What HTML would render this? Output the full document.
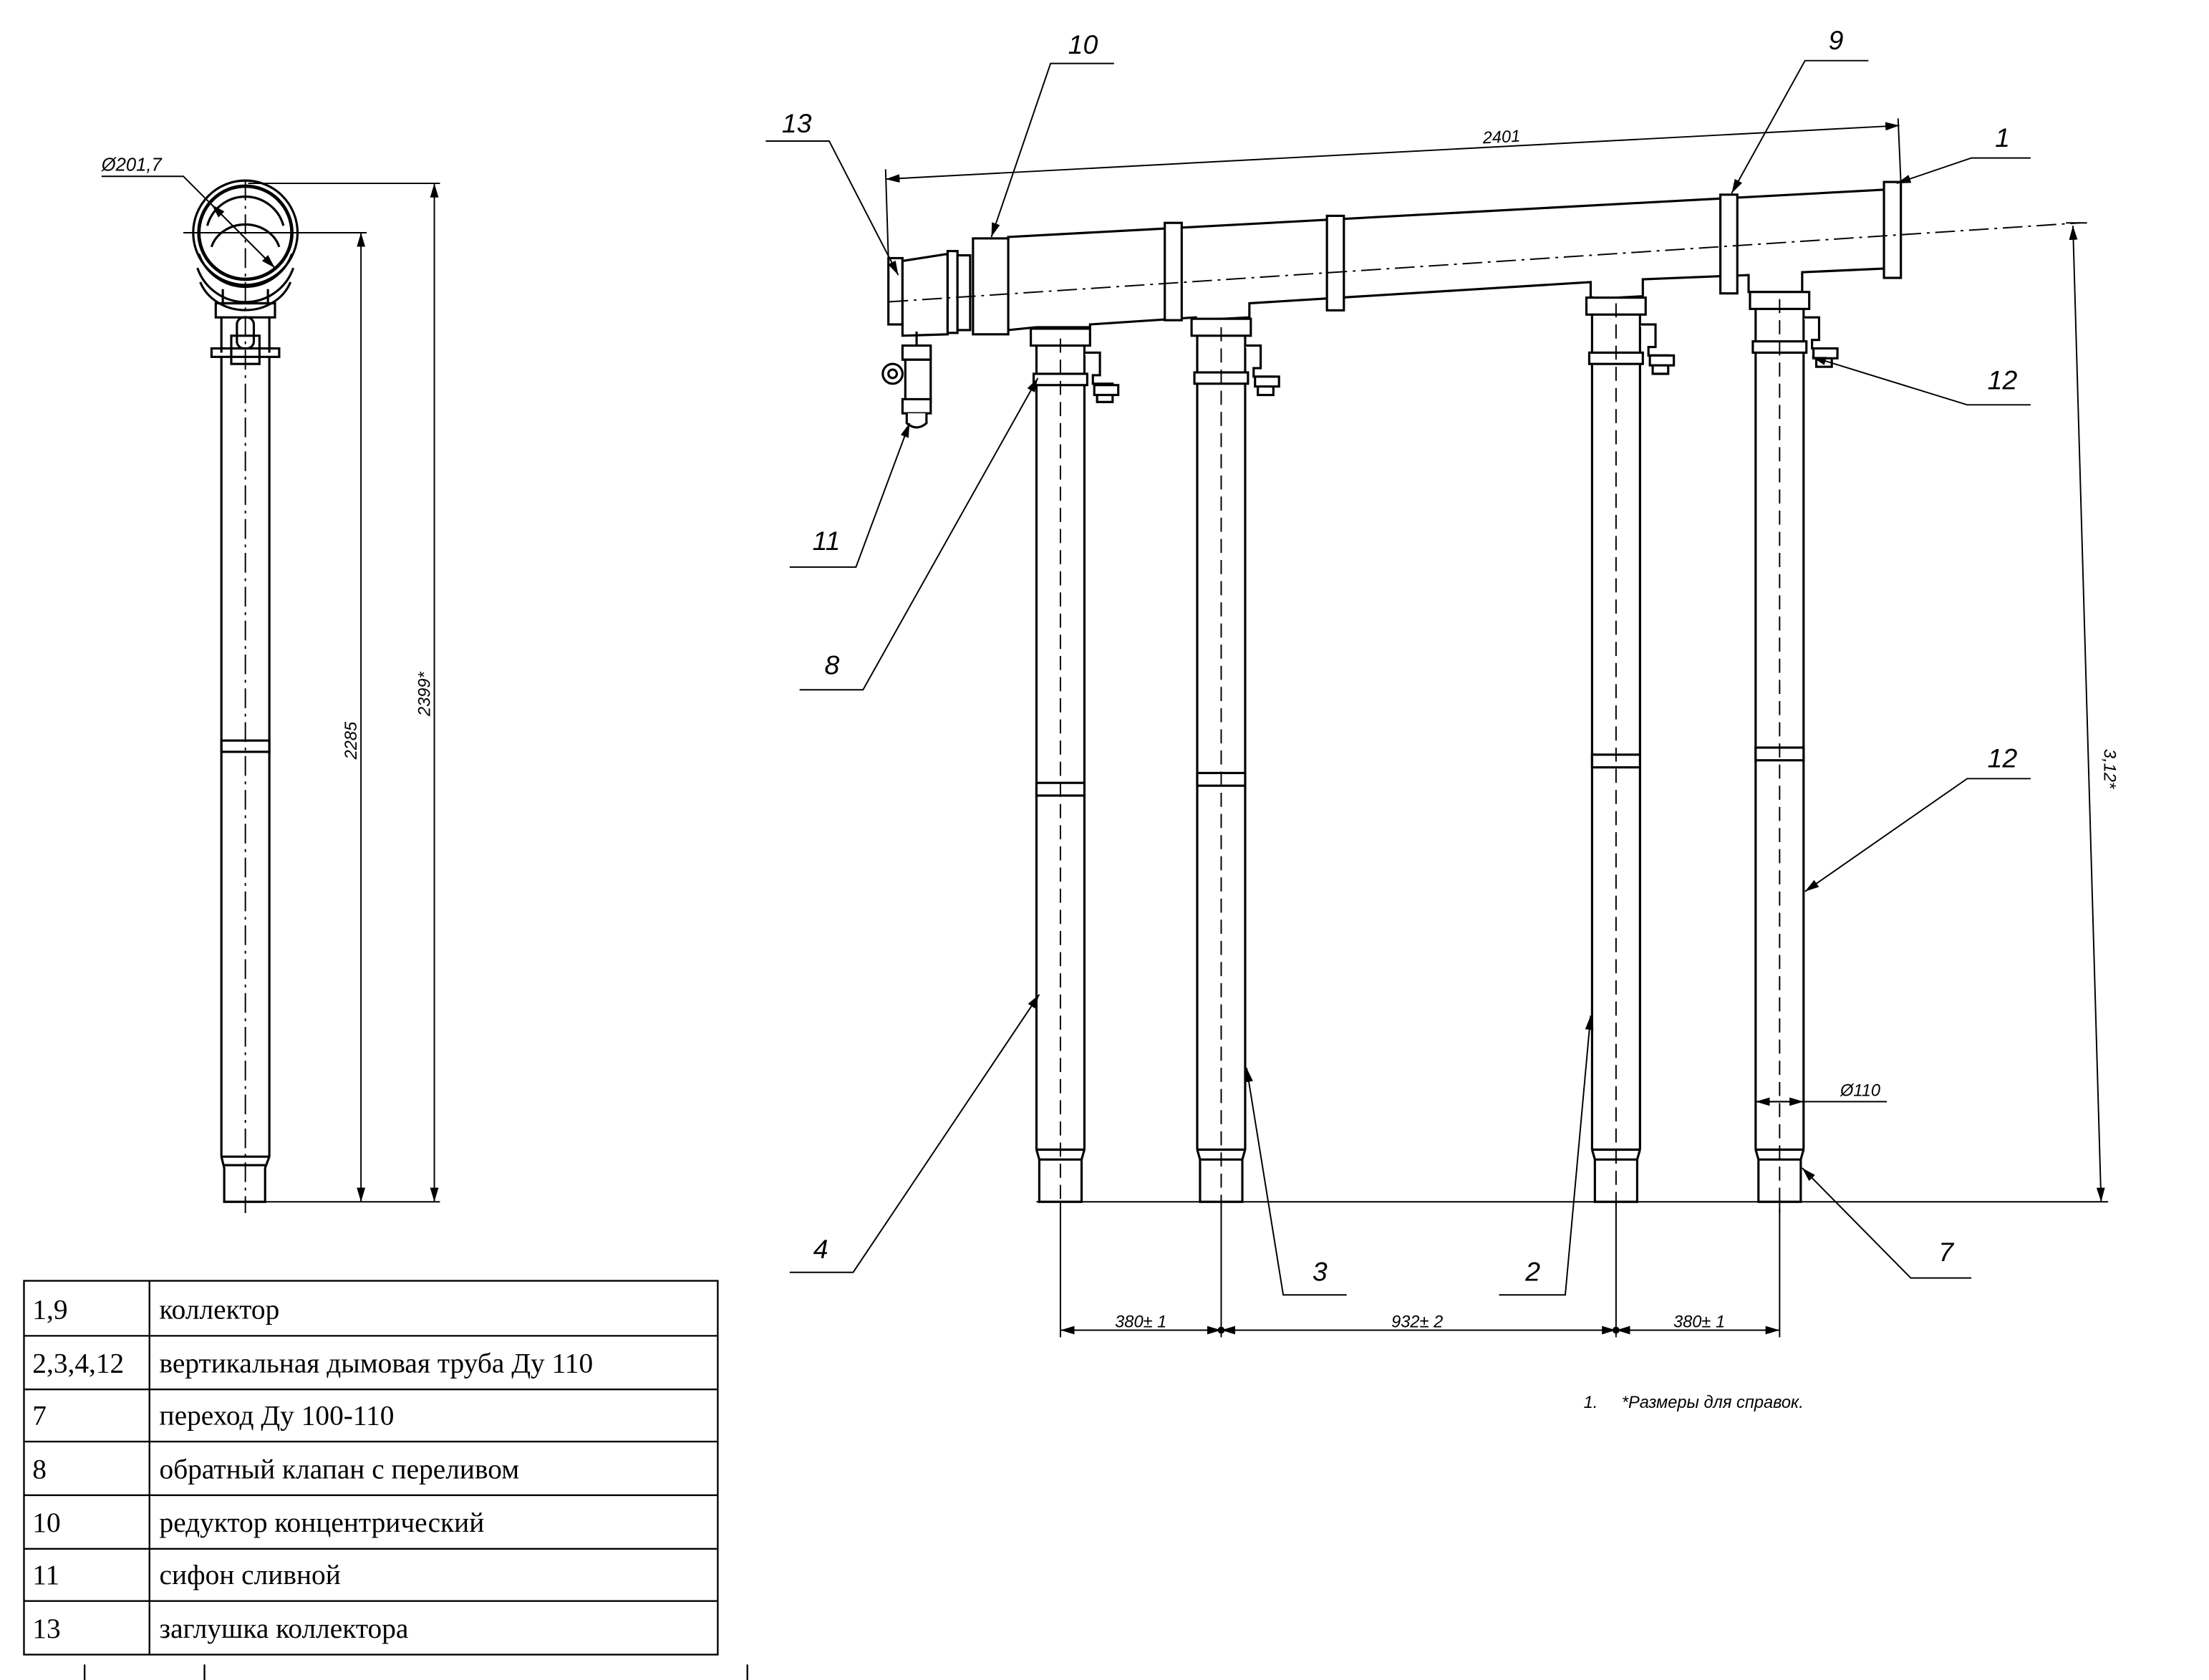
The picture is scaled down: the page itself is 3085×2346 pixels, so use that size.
<!DOCTYPE html>
<html><head><meta charset="utf-8"><style>
html,body{margin:0;padding:0;background:#fff;}
svg{display:block;}
.l{font-family:"Liberation Sans",sans-serif;font-style:italic;font-size:19px;}
.s{font-family:"Liberation Sans",sans-serif;font-style:italic;font-size:12px;}
.t{font-family:"Liberation Serif","DejaVu Serif",serif;font-size:20px;}
</style></head><body>
<svg width="3085" height="2346" viewBox="0 0 1566.5 1191" preserveAspectRatio="none" xmlns="http://www.w3.org/2000/svg">
<defs>
<marker id="a" viewBox="0 0 10 6" refX="10" refY="3" markerWidth="10" markerHeight="6" orient="auto-start-reverse" markerUnits="userSpaceOnUse"><path d="M0,0 L10,3 L0,6z" fill="#000"/></marker>
</defs>
<g fill="none" stroke="#000" stroke-width="1">

<!-- LEFT VIEW -->
<g stroke-width="1.6">
<circle cx="174" cy="165" r="37"/>
<circle cx="174" cy="165" r="33" stroke-width="2.4"/>
<path d="M141,180 A35,35 0 0,0 207,180 M140,190 A36,36 0 0,0 208,190 M142,200 A34,30 0 0,0 206,200"/>
<path d="M147,160 A28,28 0 0,1 201,160 M150,175 A25,22 0 0,1 198,175"/>
<path d="M158,205 L158,215 L190,215 L190,205"/>
<rect x="153" y="215" width="42" height="10"/>
<path d="M157,225 L157,250 M191,225 L191,250"/>
<rect x="168" y="225" width="12" height="22" rx="5"/>
<rect x="164" y="238" width="20" height="20"/>
<rect x="150" y="247" width="48" height="6"/>
<path d="M157,253 L157,820 M191,253 L191,820"/>
<rect x="157" y="525" width="34" height="8"/>
<path d="M157,820 L159,828 L159,852 L188,852 L188,828 L191,820 M157,820 L191,820 M159,826 L188,826"/>
</g>
<path d="M174,128 L174,860" stroke-dasharray="14,4,2,4"/>
<path d="M130,165 L218,165"/>
<path d="M176,130 L312,130 M195,165 L260,165 M159,852 L312,852"/>
<path d="M256,165 L256,852" marker-start="url(#a)" marker-end="url(#a)"/>
<path d="M308,130 L308,852" marker-start="url(#a)" marker-end="url(#a)"/>
<path d="M72,125 L130,125 L195,190" marker-end="url(#a)"/>
<path d="M150,145 L195,190" marker-start="url(#a)"/>

<!-- COLLECTOR -->
<g stroke-width="1.6" fill="#fff">
<rect x="630" y="183" width="10" height="47"/>
<path d="M640,185 L672,180 L672,237 L640,238z"/>
<rect x="672" y="178" width="7" height="58"/>
<rect x="679" y="181" width="9" height="53"/>
<rect x="690" y="169" width="25" height="68"/>
<path d="M715,168 L1345,134 L1345,190 L1278,193 L1278,207 L1240,207 L1240,195 L1165,198 L1165,210 L1128,212 L1128,200 L886,215 L886,225 L848,227 L848,225 L773,230 L773,232 L735,232 L735,232 L715,234z"/>
<rect x="826" y="158" width="12" height="69"/>
<rect x="941" y="153" width="12" height="67"/>
<rect x="1220" y="138" width="12" height="70"/>
<rect x="1336" y="129" width="12" height="68"/>
</g>
<path d="M630,214 L1475,158" stroke-dasharray="14,4,2,4"/>
<g stroke-width="1.6" fill="#fff">
<path d="M650,235 L650,245"/>
<rect x="640" y="245" width="20" height="10"/>
<rect x="642" y="255" width="18" height="30"/>
<circle cx="633" cy="265" r="7"/><circle cx="633" cy="265" r="3"/>
<rect x="640" y="283" width="20" height="10"/>
<path d="M643,293 L643,300 Q650,306 657,300 L657,293"/>
</g>

<!-- VERTICAL PIPES -->
<g stroke-width="1.6" fill="#fff">
<path d="M735,232 L735,815 M769,232 L769,815"/>
<rect x="731" y="233" width="42" height="12"/>
<rect x="733" y="265" width="38" height="8"/>
<rect x="735" y="555" width="34" height="9"/>
<path d="M735,815 L737,822 L737,852 L767,852 L767,822 L769,815 M735,815 L769,815 M737,822 L767,822"/>
<path d="M769,250 L780,250 L780,266 L775,266 L775,272 L789,272 L789,285 L778,285 L778,272"/>
<rect x="776" y="273" width="17" height="7"/>
<path d="M849,227 L849,815 M883,227 L883,815"/>
<rect x="845" y="226" width="42" height="12"/>
<rect x="847" y="264" width="38" height="8"/>
<rect x="849" y="548" width="34" height="9"/>
<path d="M849,815 L851,822 L851,852 L881,852 L881,822 L883,815 M849,815 L883,815 M851,822 L881,822"/>
<path d="M883,245 L894,245 L894,261 L889,261 L889,267 L903,267 L903,280 L892,280 L892,267"/>
<rect x="890" y="267" width="17" height="7"/>
<path d="M1129,210 L1129,815 M1163,210 L1163,815"/>
<rect x="1125" y="211" width="42" height="12"/>
<rect x="1127" y="250" width="38" height="8"/>
<rect x="1129" y="535" width="34" height="9"/>
<path d="M1129,815 L1131,822 L1131,852 L1161,852 L1161,822 L1163,815 M1129,815 L1163,815 M1131,822 L1161,822"/>
<path d="M1163,230 L1174,230 L1174,246 L1169,246 L1169,252 L1183,252 L1183,265 L1172,265 L1172,252"/>
<rect x="1170" y="252" width="17" height="7"/>
<path d="M1245,207 L1245,815 M1279,207 L1279,815"/>
<rect x="1241" y="207" width="42" height="12"/>
<rect x="1243" y="242" width="38" height="8"/>
<rect x="1245" y="530" width="34" height="9"/>
<path d="M1245,815 L1247,822 L1247,852 L1277,852 L1277,822 L1279,815 M1245,815 L1279,815 M1247,822 L1277,822"/>
<path d="M1279,225 L1290,225 L1290,241 L1285,241 L1285,247 L1299,247 L1299,260 L1288,260 L1288,247"/>
<rect x="1286" y="247" width="17" height="7"/>
</g>
<g stroke-dasharray="10,5">
<path d="M752,240 L752,860 M866,232 L866,860 M1146,215 L1146,860 M1262,212 L1262,860"/>
</g>

<!-- DIMENSIONS RIGHT -->
<path d="M630,183 L628,120 M1348,130 L1346,84"/>
<path d="M628,127 L1347,89" marker-start="url(#a)" marker-end="url(#a)"/>
<path d="M735,852 L1495,852"/>
<path d="M1465,158 L1480,158"/>
<path d="M1470,160 L1490,852" marker-start="url(#a)" marker-end="url(#a)"/>
<path d="M752,852 L752,948 M866,852 L866,948 M1146,852 L1146,948 M1262,852 L1262,948"/>
<path d="M752,943 L866,943" marker-start="url(#a)" marker-end="url(#a)"/>
<path d="M866,943 L1146,943" marker-start="url(#a)" marker-end="url(#a)"/>
<path d="M1146,943 L1262,943" marker-start="url(#a)" marker-end="url(#a)"/>
<circle cx="866" cy="943" r="2" fill="#000"/><circle cx="1146" cy="943" r="2" fill="#000"/>
<path d="M1245,781 L1338,781" marker-start="url(#a)"/>
<path d="M1245,781 L1279,781" marker-end="url(#a)"/>

<!-- LEADERS -->
<path d="M790,45 L745,45 L703,168" marker-end="url(#a)"/>
<path d="M543,100 L588,100 L637,195" marker-end="url(#a)"/>
<path d="M1325,43 L1280,43 L1228,137" marker-end="url(#a)"/>
<path d="M1440,112 L1398,112 L1345,130" marker-end="url(#a)"/>
<path d="M1440,287 L1395,287 L1285,253" marker-end="url(#a)"/>
<path d="M560,402 L607,402 L645,300" marker-end="url(#a)"/>
<path d="M567,489 L612,489 L736,268" marker-end="url(#a)"/>
<path d="M1440,552 L1395,552 L1280,632" marker-end="url(#a)"/>
<path d="M560,902 L605,902 L737,705" marker-end="url(#a)"/>
<path d="M955,918 L910,918 L884,757" marker-end="url(#a)"/>
<path d="M1063,918 L1110,918 L1128,720" marker-end="url(#a)"/>
<path d="M1398,906 L1355,906 L1278,828" marker-end="url(#a)"/>

<!-- TABLE -->
<g stroke-width="1.2">
<rect x="17" y="908" width="492" height="265"/>
<path d="M106,908 L106,1173 M17,947 L509,947 M17,985 L509,985 M17,1022 L509,1022 M17,1060 L509,1060 M17,1098 L509,1098 M17,1135 L509,1135"/>
<path d="M60,1180 L60,1191 M145,1180 L145,1191 M530,1180 L530,1191"/>
</g>
</g>

<!-- TEXT -->
<g fill="#000">
<text x="72" y="121" style="font-family:'Liberation Sans',sans-serif;font-style:italic;font-size:13px">Ø201,7</text>
<text class="s" transform="translate(253,525) rotate(-90)" text-anchor="middle">2285</text>
<text class="s" transform="translate(305,492) rotate(-90)" text-anchor="middle">2399*</text>
<text class="s" transform="translate(1065,101) rotate(-3)" text-anchor="middle">2401</text>
<text class="s" transform="translate(1492,545) rotate(90)" text-anchor="middle">3,12*</text>
<text class="s" x="809" y="941" text-anchor="middle">380± 1</text>
<text class="s" x="1005" y="941" text-anchor="middle">932± 2</text>
<text class="s" x="1205" y="941" text-anchor="middle">380± 1</text>
<text class="s" x="1305" y="777">Ø110</text>
<text class="s" x="1123" y="998">1.</text>
<text class="s" x="1150" y="998">*Размеры для справок.</text>
<text class="l" x="768" y="38" text-anchor="middle">10</text>
<text class="l" x="565" y="94" text-anchor="middle">13</text>
<text class="l" x="1302" y="35" text-anchor="middle">9</text>
<text class="l" x="1420" y="104" text-anchor="middle">1</text>
<text class="l" x="1420" y="276" text-anchor="middle">12</text>
<text class="l" x="586" y="390" text-anchor="middle">11</text>
<text class="l" x="590" y="478" text-anchor="middle">8</text>
<text class="l" x="1420" y="544" text-anchor="middle">12</text>
<text class="l" x="582" y="892" text-anchor="middle">4</text>
<text class="l" x="936" y="908" text-anchor="middle">3</text>
<text class="l" x="1087" y="908" text-anchor="middle">2</text>
<text class="l" x="1380" y="894" text-anchor="middle">7</text>
<text class="t" x="23" y="935">1,9</text><text class="t" x="113" y="935">коллектор</text>
<text class="t" x="23" y="973">2,3,4,12</text><text class="t" x="113" y="973">вертикальная дымовая труба Ду  110</text>
<text class="t" x="23" y="1010">7</text><text class="t" x="113" y="1010">переход Ду 100-110</text>
<text class="t" x="23" y="1048">8</text><text class="t" x="113" y="1048">обратный клапан с переливом</text>
<text class="t" x="23" y="1086">10</text><text class="t" x="113" y="1086">редуктор концентрический</text>
<text class="t" x="23" y="1123">11</text><text class="t" x="113" y="1123">сифон сливной</text>
<text class="t" x="23" y="1161">13</text><text class="t" x="113" y="1161">заглушка коллектора</text>
</g>
</svg>
</body></html>
